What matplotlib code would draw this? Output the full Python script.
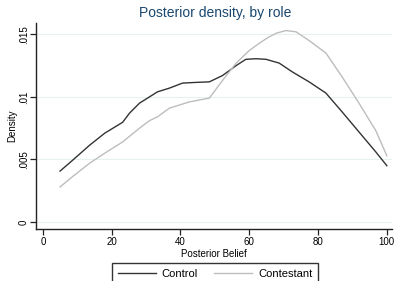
import matplotlib
matplotlib.use("Agg")
import matplotlib.pyplot as plt

plt.rcParams['font.family'] = ['Liberation Sans', 'DejaVu Sans']

# values
control_x = [5, 8.5, 13.6, 18, 23.2, 25.2, 28.1, 31, 33.3, 36.8, 40.6, 44, 48.4,
             52.2, 56.2, 59, 62, 64.9, 68.7, 72.5, 77.4, 82.3, 87, 91.9, 96.8, 100]
control_y = [0.00407, 0.0049, 0.00614, 0.0071, 0.00797, 0.0087, 0.0095, 0.0100,
             0.0104, 0.0107, 0.0111, 0.01115, 0.0112, 0.0117, 0.0125, 0.0130,
             0.01305, 0.0130, 0.0127, 0.0120, 0.0112, 0.0103, 0.0088, 0.0072,
             0.0056, 0.0045]
contestant_x = [5, 8.5, 13.6, 18, 23.2, 28.1, 31, 33.3, 36.8, 42.6, 48.4, 52.2,
                56.2, 60, 63, 65.8, 68, 70.7, 73.6, 77.4, 82.3, 87, 91.9, 96.8, 100]
contestant_y = [0.0028, 0.0036, 0.0047, 0.0055, 0.0064, 0.0075, 0.0081, 0.0084,
                0.0091, 0.0096, 0.0099, 0.0113, 0.0127, 0.0137, 0.0143, 0.0148,
                0.0151, 0.0153, 0.0152, 0.0145, 0.0135, 0.0116, 0.0095, 0.0073,
                0.0053]
xticks = [0, 20, 40, 60, 80, 100]
yticks = [0, 0.005, 0.01, 0.015]
ytick_labels = ['0', '.005', '.01', '.015']

fig = plt.figure(figsize=(3.99, 2.81), dpi=100)
ax = fig.add_axes([0.0902, 0.185, 0.8922, 0.733])

ax.plot(control_x, control_y, color='#333333', lw=1.0, label='Control')
ax.plot(contestant_x, contestant_y, color='#bdbdbd', lw=1.0, label='Contestant')

ax.set_xlim(-2.0, 101.5)
ax.set_ylim(-0.00056, 0.0159)
ax.set_xticks(xticks)
ax.set_yticks(yticks)
ax.set_yticklabels(ytick_labels, rotation=90, va='center')
ax.tick_params(labelsize=7, length=4, width=0.9, pad=2, color='#222222')
ax.tick_params(axis='y', pad=1)
ax.grid(axis='y', color='#e8f0f0', lw=0.8)
ax.set_axisbelow(True)
for s in ['top', 'right']:
    ax.spines[s].set_visible(False)
for s in ['left', 'bottom']:
    ax.spines[s].set_linewidth(1.0)
    ax.spines[s].set_color('#222222')

ax.set_xlabel('Posterior Belief', fontsize=7, labelpad=1)
ax.set_ylabel('Density', fontsize=7, labelpad=1)
fig.text(0.539, 0.955, 'Posterior density, by role', fontsize=10,
         color='#1a476f', ha='center', va='center')

fig.legend(loc='upper center', bbox_to_anchor=(0.539, 0.064), ncol=2,
           fontsize=8, handlelength=3.4, handletextpad=0.55, frameon=True,
           fancybox=False, edgecolor='black', borderpad=0.5,
           borderaxespad=0, columnspacing=1.45)

fig.savefig('out.png', dpi=100)
